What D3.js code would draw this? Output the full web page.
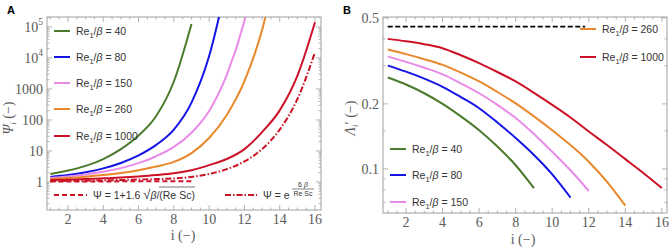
<!DOCTYPE html>
<html><head><meta charset="utf-8">
<script src="https://cdn.jsdelivr.net/npm/d3@7"></script>
<style>
body{margin:0;background:#fff;}
svg{display:block;}
</style></head>
<body>
<svg id="chart" width="669" height="249"></svg>
<script>
// ---------- Data ----------
// Panel A: Psi_i vs i
const iA = d3.range(1, 17);
const psi40   = [1.82, 2.34, 3.31, 5.50, 11.5, 31.6, 135, 1740, 1.25e5];
const psi80   = [1.45, 1.67, 2.06, 2.75, 4.11, 7.24, 15.8, 49, 363, 11500, 2.7e6];
const psi150  = [1.35, 1.50, 1.74, 2.13, 2.80, 4.06, 6.76, 13.5, 38.9, 195, 2820, 1.58e5, 6.9e7];
const psi260  = [1.26, 1.35, 1.48, 1.67, 1.95, 2.40, 3.14, 4.45, 8.57, 26.3, 145, 1780, 7.9e4, 2.5e7];
const psi1000 = [1.15, 1.19, 1.24, 1.31, 1.39, 1.51, 1.67, 1.90, 2.39, 3.50, 5.50, 11.5, 40.7, 204, 2630, 1.41e5];
const psiExp  = [1.07, 1.09, 1.11, 1.13, 1.16, 1.20, 1.24, 1.30, 1.46, 1.82, 2.60, 4.59, 11.5, 49, 468, 1.51e4];
const psiSqrt = [1.04, 1.04, 1.04, 1.04, 1.05, 1.05, 1.05, 1.05, 1.05];
// Panel B: Lambda_i' vs i
const lam40   = [0.265, 0.246, 0.224, 0.200, 0.175, 0.151, 0.127, 0.104, 0.0814];
const lam80   = [0.301, 0.282, 0.262, 0.240, 0.215, 0.191, 0.164, 0.139, 0.116, 0.0944, 0.0737];
const lam150  = [0.331, 0.313, 0.294, 0.274, 0.249, 0.224, 0.198, 0.172, 0.145, 0.120, 0.0986, 0.079];
const lam260  = [0.357, 0.340, 0.322, 0.303, 0.279, 0.254, 0.227, 0.201, 0.175, 0.151, 0.129, 0.108, 0.0871, 0.0676];
const lam1000 = [0.400, 0.390, 0.378, 0.362, 0.336, 0.309, 0.281, 0.254, 0.225, 0.198, 0.173, 0.149, 0.129, 0.111, 0.0955, 0.0815];
const lamLimitI = [1, 11.8];
const lamLimit  = [0.456, 0.456];

const ratios = ["40", "80", "150", "260", "1000"];
const xTicks = [2, 4, 6, 8, 10, 12, 14, 16];
const yTicksA = [1, 10, 100, 1000, 1e4, 1e5];
const yTicksB = [0.1, 0.2, 0.5];

const colors = {"40": "#4b7a2c", "80": "#1414e6", "150": "#e98ae8", "260": "#e8882a", "1000": "#cc1226"};

// ---------- Setup ----------
const svg = d3.select("#chart");
const serif = "'Liberation Serif','Times New Roman',serif";
const sans = "'Liberation Sans',Arial,sans-serif";
const frameCol = "#a0a0a0";
const tickTextCol = "#5a5a5a";

function pts(vals) { return vals.map((v, k) => [k + 1, v]); }

function drawFrame(g, x, y, xMinor, yMinor, xt, yt, yFmt) {
  const [x0, x1] = x.range(), [y0, y1] = y.range();
  g.append("rect").attr("x", x0).attr("y", y1).attr("width", x1 - x0).attr("height", y0 - y1)
    .attr("fill", "none").attr("stroke", frameCol).attr("stroke-width", 1);
  const tk = g.append("g").attr("stroke", frameCol).attr("stroke-width", 0.8);
  xt.forEach(v => {
    tk.append("line").attr("x1", x(v)).attr("x2", x(v)).attr("y1", y0).attr("y2", y0 - 5);
    tk.append("line").attr("x1", x(v)).attr("x2", x(v)).attr("y1", y1).attr("y2", y1 + 5);
  });
  xMinor.forEach(v => {
    tk.append("line").attr("x1", x(v)).attr("x2", x(v)).attr("y1", y0).attr("y2", y0 - 2.5);
    tk.append("line").attr("x1", x(v)).attr("x2", x(v)).attr("y1", y1).attr("y2", y1 + 2.5);
  });
  yt.forEach(v => {
    tk.append("line").attr("y1", y(v)).attr("y2", y(v)).attr("x1", x0).attr("x2", x0 + 5);
    tk.append("line").attr("y1", y(v)).attr("y2", y(v)).attr("x1", x1).attr("x2", x1 - 5);
  });
  yMinor.forEach(v => {
    tk.append("line").attr("y1", y(v)).attr("y2", y(v)).attr("x1", x0).attr("x2", x0 + 2.5);
    tk.append("line").attr("y1", y(v)).attr("y2", y(v)).attr("x1", x1).attr("x2", x1 - 2.5);
  });
  xt.forEach(v => {
    g.append("text").attr("x", x(v)).attr("y", y0 + 14).attr("text-anchor", "middle")
      .attr("font-family", serif).attr("font-size", 14).attr("fill", tickTextCol).text(v);
  });
}

function legendEntry(g, x, y, col, label, dash) {
  g.append("line").attr("x1", x).attr("x2", x + 16).attr("y1", y).attr("y2", y)
    .attr("stroke", col).attr("stroke-width", 2).attr("stroke-dasharray", dash || null);
  const t = g.append("text").attr("x", x + 22).attr("y", y + 4)
    .attr("font-family", sans).attr("font-size", 10.5).attr("fill", "#333");
  t.append("tspan").text("Re");
  t.append("tspan").attr("font-size", 7.5).attr("dy", 2.5).text("1");
  t.append("tspan").attr("dy", -2.5).text("/");
  t.append("tspan").attr("font-style", "italic").text("β");
  t.append("tspan").text(" = " + label);
}

// ---------- Panel A ----------
const xA = d3.scaleLinear().domain([0.81, 16.34]).range([47, 321]);
const yA = d3.scaleLog().domain([10 ** -0.903, 10 ** 5.32]).range([210, 17]);
const gA = svg.append("g");
svg.append("defs").append("clipPath").attr("id", "clipA").append("rect")
  .attr("x", 47).attr("y", 17).attr("width", 274).attr("height", 193);
svg.select("defs").append("clipPath").attr("id", "clipB").append("rect")
  .attr("x", 383).attr("y", 17).attr("width", 284).attr("height", 196);

const yMinorA = [];
for (let e = -1; e <= 5; e++) for (let m = 2; m <= 9; m++) {
  const v = m * 10 ** e; if (v > yA.domain()[0] && v < yA.domain()[1]) yMinorA.push(v);
}
const xMinor = d3.range(1, 16.5, 0.5).filter(v => v % 2 !== 0);
drawFrame(gA, xA, yA, xMinor, yMinorA, xTicks, yTicksA);

const yLabA = [["1"], ["10"], ["100"], ["1000"], ["10", "4"], ["10", "5"]];
yTicksA.forEach((v, k) => {
  const t = gA.append("text").attr("x", 43).attr("y", yA(v) + 5).attr("text-anchor", "end")
    .attr("font-family", serif).attr("font-size", 14).attr("fill", tickTextCol);
  t.append("tspan").text(yLabA[k][0]);
  if (yLabA[k][1]) t.append("tspan").attr("font-size", 9.5).attr("dy", -7).text(yLabA[k][1]);
});

const lineA = d3.line().x(d => xA(d[0])).y(d => yA(d[1])).curve(d3.curveMonotoneX);
const curvesA = gA.append("g").attr("clip-path", "url(#clipA)");
const seriesA = [psi40, psi80, psi150, psi260, psi1000];
seriesA.forEach((s, k) => {
  curvesA.append("path").attr("d", lineA(pts(s))).attr("fill", "none")
    .attr("stroke", colors[ratios[k]]).attr("stroke-width", 2);
});
curvesA.append("path").attr("d", lineA(pts(psiExp))).attr("fill", "none")
  .attr("stroke", colors["1000"]).attr("stroke-width", 2).attr("stroke-dasharray", "6,2,1.5,2");
curvesA.append("path").attr("d", lineA(pts(psiSqrt))).attr("fill", "none")
  .attr("stroke", colors["1000"]).attr("stroke-width", 2).attr("stroke-dasharray", "5,3");

[31, 57, 83, 109, 136].forEach((yy, k) => legendEntry(gA, 54, yy, colors[ratios[k]], ratios[k]));

// formula legends
gA.append("line").attr("x1", 54).attr("x2", 87).attr("y1", 195).attr("y2", 195)
  .attr("stroke", colors["1000"]).attr("stroke-width", 2).attr("stroke-dasharray", "5,3");
const f1 = gA.append("text").attr("x", 93).attr("y", 199)
  .attr("font-family", sans).attr("font-size", 10.5).attr("fill", "#333");
f1.append("tspan").text("Ψ = 1+1.6 ");
f1.append("tspan").attr("font-size", 13).text("√");
const f1b = f1.append("tspan").attr("font-style", "italic").text("β");
f1.append("tspan").text("/(Re Sc)");
gA.append("line").attr("x1", 159).attr("x2", 195).attr("y1", 187).attr("y2", 187)
  .attr("stroke", "#555").attr("stroke-width", 0.8);

gA.append("line").attr("x1", 225).attr("x2", 257).attr("y1", 195).attr("y2", 195)
  .attr("stroke", colors["1000"]).attr("stroke-width", 2).attr("stroke-dasharray", "6,2,1.5,2");
gA.append("text").attr("x", 263).attr("y", 199).attr("font-family", sans).attr("font-size", 10.5)
  .attr("fill", "#333").text("Ψ = e");
gA.append("text").attr("x", 303).attr("y", 187).attr("text-anchor", "middle").attr("font-family", sans)
  .attr("font-size", 7).attr("fill", "#333").html("6 <tspan font-style='italic'>β</tspan>");
gA.append("line").attr("x1", 292).attr("x2", 314).attr("y1", 189).attr("y2", 189)
  .attr("stroke", "#333").attr("stroke-width", 0.6);
gA.append("text").attr("x", 303).attr("y", 196).attr("text-anchor", "middle").attr("font-family", sans)
  .attr("font-size", 7).attr("fill", "#333").text("Re Sc");

// axis labels A
gA.append("text").attr("x", 183).attr("y", 240).attr("text-anchor", "middle").attr("font-family", serif)
  .attr("font-size", 14).attr("fill", tickTextCol).text("i (−)");
const ylA = gA.append("text").attr("transform", "translate(13,118) rotate(-90)").attr("text-anchor", "middle")
  .attr("font-family", serif).attr("font-size", 14).attr("fill", tickTextCol);
ylA.append("tspan").attr("font-style", "italic").text("Ψ");
ylA.append("tspan").attr("font-size", 9).attr("dy", 3).attr("font-style", "italic").text("i");
ylA.append("tspan").attr("dy", -3).text(" (−)");

svg.append("text").attr("x", 7).attr("y", 14).attr("font-family", sans).attr("font-weight", "bold")
  .attr("font-size", 11).attr("fill", "#000").text("A");

// ---------- Panel B ----------
const xB = d3.scaleLinear().domain([0.74, 16.28]).range([383, 667]);
const yB = d3.scaleLog().domain([0.0625, 0.505]).range([213, 17]);
const gB = svg.append("g");
const yMinorB = [0.07, 0.08, 0.09, 0.15, 0.3, 0.4];
drawFrame(gB, xB, yB, xMinor, yMinorB, xTicks, yTicksB);
yTicksB.forEach(v => {
  gB.append("text").attr("x", 379).attr("y", yB(v) + 5).attr("text-anchor", "end")
    .attr("font-family", serif).attr("font-size", 14).attr("fill", tickTextCol).text(v);
});

const lineB = d3.line().x(d => xB(d[0])).y(d => yB(d[1])).curve(d3.curveMonotoneX);
const curvesB = gB.append("g").attr("clip-path", "url(#clipB)");
curvesB.append("path").attr("d", lineB(lamLimitI.map((v, k) => [v, lamLimit[k]]))).attr("fill", "none")
  .attr("stroke", "#000").attr("stroke-width", 1.8).attr("stroke-dasharray", "5,2.5");
[lam40, lam80, lam150, lam260, lam1000].forEach((s, k) => {
  curvesB.append("path").attr("d", lineB(pts(s))).attr("fill", "none")
    .attr("stroke", colors[ratios[k]]).attr("stroke-width", 2);
});

legendEntry(gB, 580, 29, colors["260"], "260");
legendEntry(gB, 580, 57, colors["1000"], "1000");
legendEntry(gB, 390, 149, colors["40"], "40");
legendEntry(gB, 390, 175, colors["80"], "80");
legendEntry(gB, 390, 202, colors["150"], "150");

gB.append("text").attr("x", 523).attr("y", 244).attr("text-anchor", "middle").attr("font-family", serif)
  .attr("font-size", 14).attr("fill", tickTextCol).text("i (−)");
const ylB = gB.append("text").attr("transform", "translate(355,118) rotate(-90)").attr("text-anchor", "middle")
  .attr("font-family", serif).attr("font-size", 14).attr("fill", tickTextCol);
ylB.append("tspan").attr("font-style", "italic").text("Λ");
ylB.append("tspan").attr("font-size", 9).attr("dy", 3).attr("font-style", "italic").text("i");
ylB.append("tspan").attr("dy", -3).text("′ (−)");

svg.append("text").attr("x", 343).attr("y", 14).attr("font-family", sans).attr("font-weight", "bold")
  .attr("font-size", 11).attr("fill", "#000").text("B");
</script>
</body></html>
